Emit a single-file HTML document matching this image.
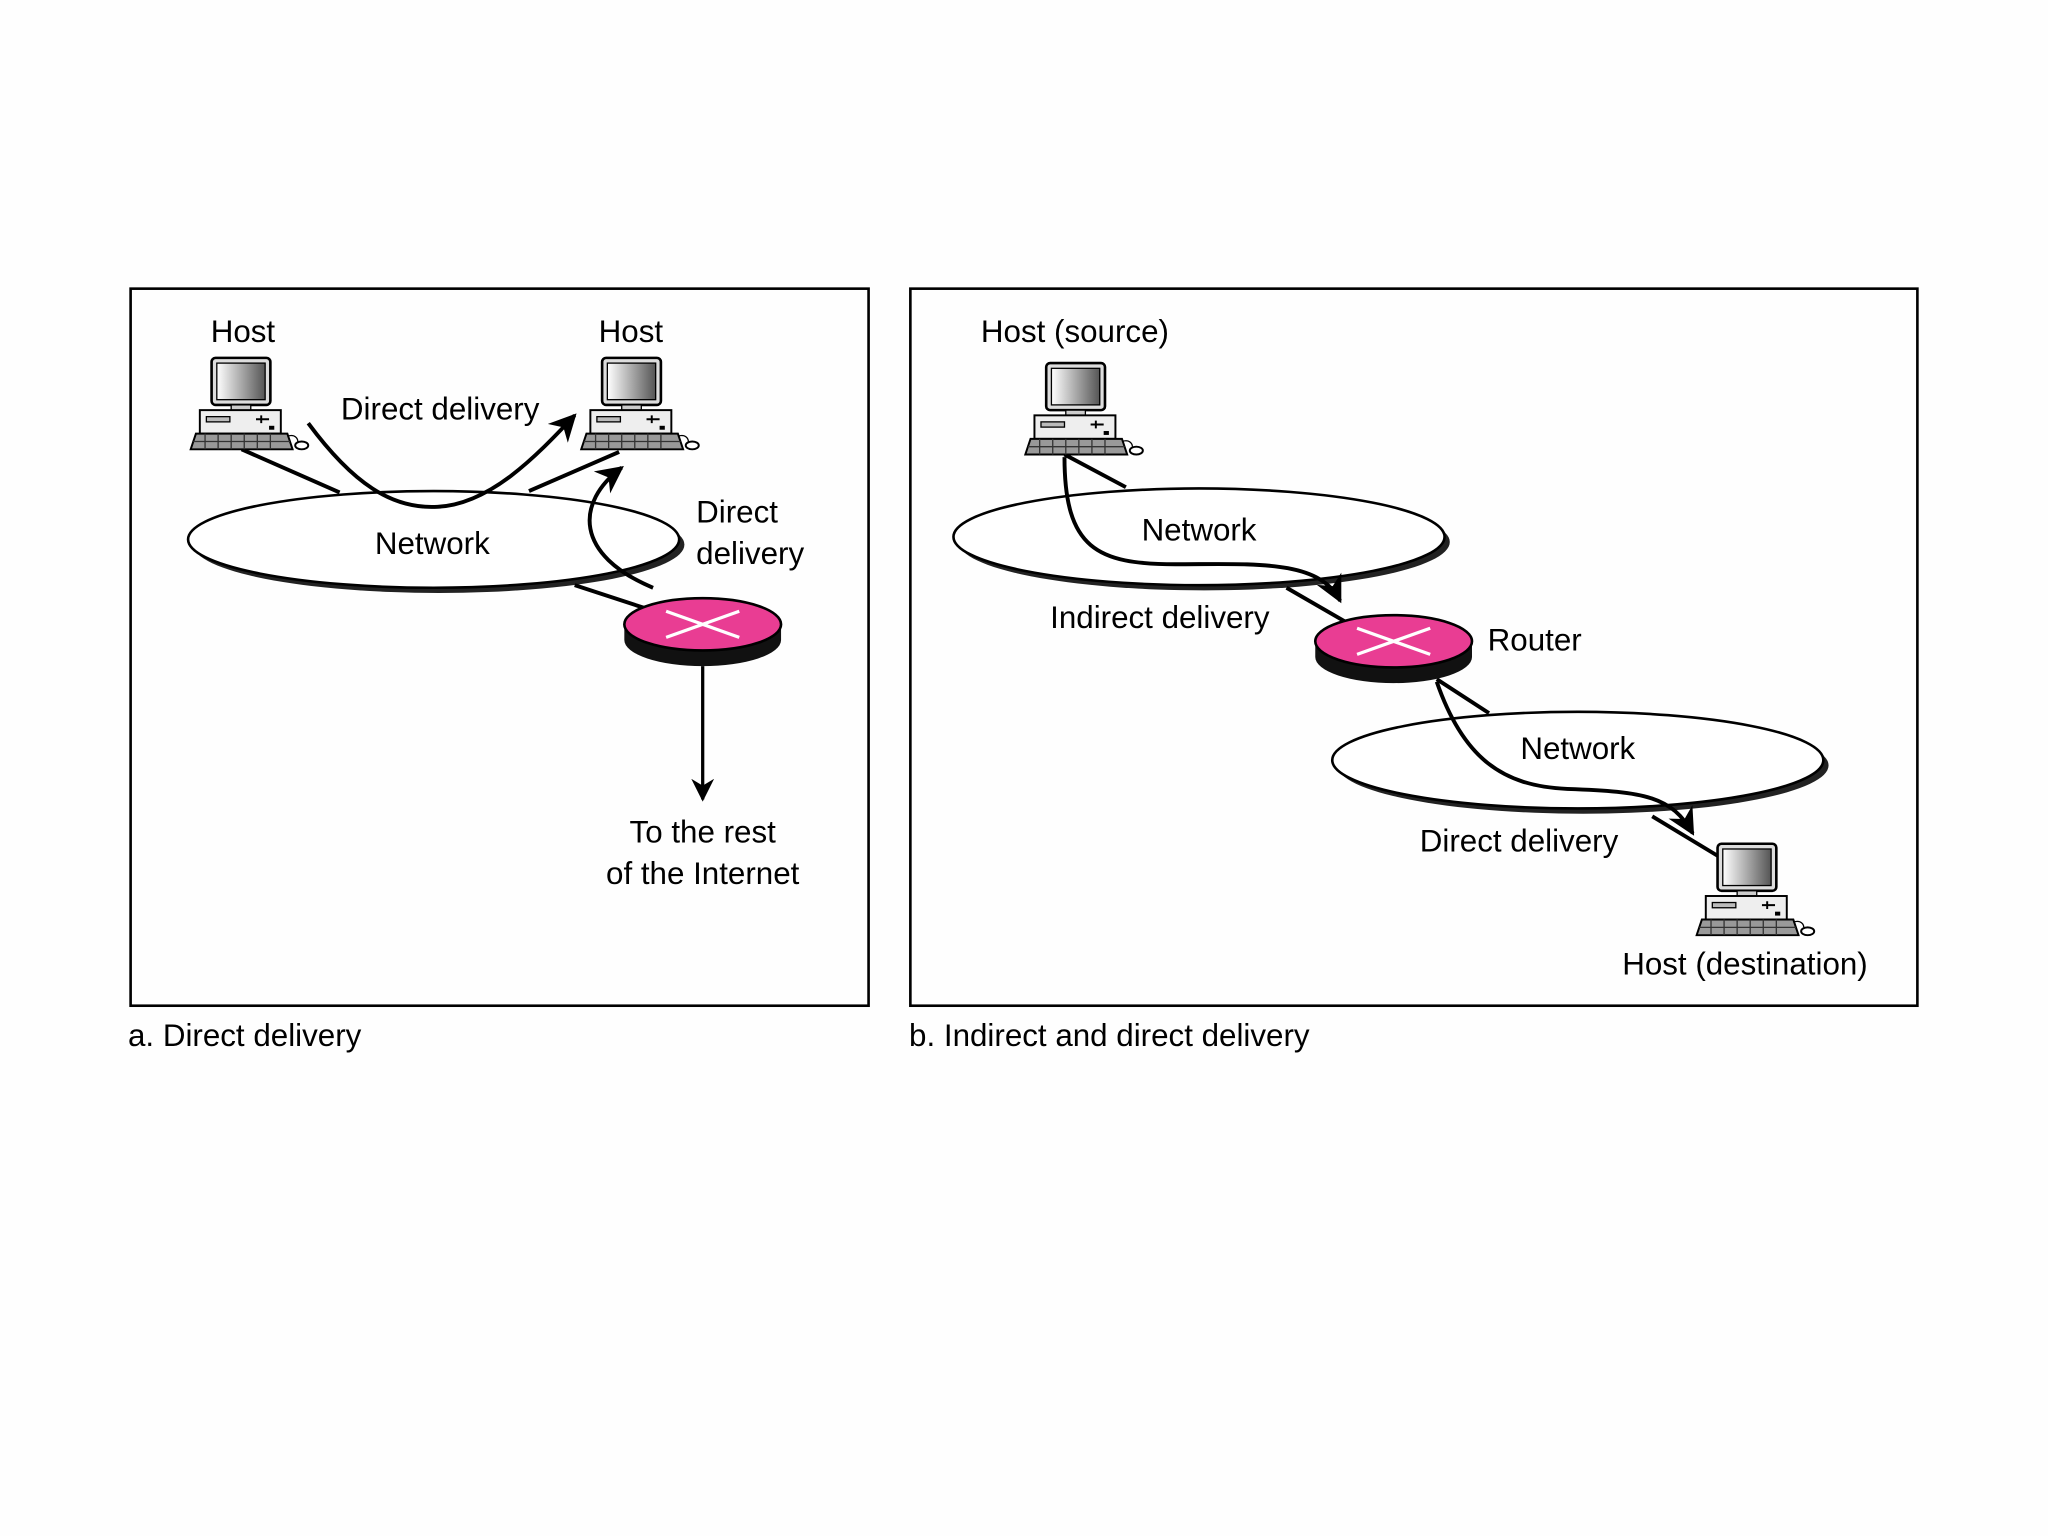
<!DOCTYPE html>
<html><head><style>html,body{margin:0;padding:0;background:#fefefe}svg{display:block}</style></head>
<body>
<svg width="2048" height="1536" viewBox="0 0 1568 1176" xmlns="http://www.w3.org/2000/svg" font-family="Liberation Sans, sans-serif" font-size="24">
<defs>
<linearGradient id="scr" x1="0" x2="1" y1="0" y2="0"><stop offset="0" stop-color="#fff"/><stop offset="1" stop-color="#555"/></linearGradient>
<marker id="ar" viewBox="0 0 10 10" refX="9" refY="5" markerWidth="7" markerHeight="7" orient="auto"><path d="M0,0 L10,5 L0,10 L3,5z" fill="#000"/></marker>
<g id="pc">
<rect x="0" y="0" width="45" height="36" rx="3" fill="#ddd" stroke="#000" stroke-width="2"/>
<rect x="4" y="4" width="37" height="28" fill="url(#scr)" stroke="#000" stroke-width="1"/>
<rect x="15" y="36" width="15" height="4" fill="#ccc" stroke="#000" stroke-width="1"/>
<rect x="-9" y="40" width="62" height="18" fill="#eee" stroke="#000" stroke-width="1.5"/>
<rect x="-4" y="45" width="18" height="4" fill="#bbb" stroke="#000" stroke-width="1"/>
<path d="M34,47 h10 M38,44 v6" stroke="#000" stroke-width="1.5"/>
<rect x="44" y="52" width="4" height="3" fill="#000"/>
<path d="M-12,58 L58,58 L62,70 L-16,70z" fill="#999" stroke="#000" stroke-width="1.5"/>
<path d="M-14,64 H60 M-5,58 v12 M5,58 v12 M15,58 v12 M25,58 v12 M35,58 v12 M45,58 v12" stroke="#333" stroke-width="1"/>
<path d="M58,60 C64,58 66,62 66,64" fill="none" stroke="#000"/>
<ellipse cx="69" cy="67" rx="5" ry="3" fill="#fff" stroke="#000" stroke-width="1.5"/>
</g>
</defs>
<rect x="100" y="221" width="565" height="549" fill="none" stroke="#000" stroke-width="2"/>
<rect x="697" y="221" width="771" height="549" fill="none" stroke="#000" stroke-width="2"/>

<!-- panel a -->
<line x1="185" y1="344" x2="260" y2="377" stroke="#000" stroke-width="3"/>
<line x1="474" y1="346" x2="405" y2="376" stroke="#000" stroke-width="3"/>
<ellipse cx="336" cy="417" rx="188" ry="37" fill="#222"/>
<ellipse cx="332" cy="413" rx="188" ry="37" fill="#fff" stroke="#000" stroke-width="2"/>
<line x1="440" y1="448" x2="495" y2="466" stroke="#000" stroke-width="3"/>
<path d="M478,478 v12 a60,20 0 0 0 120,0 v-12z" fill="#111"/>
<ellipse cx="538" cy="478" rx="60" ry="20" fill="#e93d93" stroke="#000" stroke-width="2"/>
<path d="M510,468 L566,488 M510,488 L566,468" stroke="#fff" stroke-width="2.5"/>
<line x1="538" y1="510" x2="538" y2="612" stroke="#000" stroke-width="2.5" marker-end="url(#ar)"/>
<path d="M236,324 C270,370 300,390 335,388 C375,386 410,350 440,318" fill="none" stroke="#000" stroke-width="3" marker-end="url(#ar)"/>
<path d="M500,450 C440,425 440,385 476,358" fill="none" stroke="#000" stroke-width="3" marker-end="url(#ar)"/>
<use href="#pc" x="162" y="274"/>
<use href="#pc" x="461" y="274"/>
<text x="186" y="262" text-anchor="middle">Host</text>
<text x="483" y="262" text-anchor="middle">Host</text>
<text x="337" y="321" text-anchor="middle">Direct delivery</text>
<text x="331" y="424" text-anchor="middle">Network</text>
<text x="533" y="400">Direct</text>
<text x="533" y="432">delivery</text>
<text x="538" y="645" text-anchor="middle">To the rest</text>
<text x="538" y="677" text-anchor="middle">of the Internet</text>
<text x="98" y="801">a. Direct delivery</text>

<!-- panel b -->
<line x1="815" y1="348" x2="862" y2="373" stroke="#000" stroke-width="3"/>
<ellipse cx="922" cy="415" rx="188" ry="37" fill="#222"/>
<ellipse cx="918" cy="411" rx="188" ry="37" fill="#fff" stroke="#000" stroke-width="2"/>
<line x1="985" y1="450" x2="1030" y2="476" stroke="#000" stroke-width="3"/>
<line x1="1100" y1="520" x2="1140" y2="546" stroke="#000" stroke-width="3"/>
<ellipse cx="1212" cy="586" rx="188" ry="37" fill="#222"/>
<ellipse cx="1208" cy="582" rx="188" ry="37" fill="#fff" stroke="#000" stroke-width="2"/>
<line x1="1265" y1="625" x2="1318" y2="657" stroke="#000" stroke-width="3"/>
<path d="M1007,491 v12 a60,20 0 0 0 120,0 v-12z" fill="#111"/>
<ellipse cx="1067" cy="491" rx="60" ry="20" fill="#e93d93" stroke="#000" stroke-width="2"/>
<path d="M1039,481 L1095,501 M1039,501 L1095,481" stroke="#fff" stroke-width="2.5"/>
<path d="M815,350 C815,420 840,432 900,432 C960,432 1010,428 1026,460" fill="none" stroke="#000" stroke-width="3" marker-end="url(#ar)"/>
<path d="M1100,522 C1120,580 1150,602 1200,604 C1260,606 1280,610 1296,638" fill="none" stroke="#000" stroke-width="3" marker-end="url(#ar)"/>
<use href="#pc" x="801" y="278"/>
<use href="#pc" x="1315" y="646"/>
<text x="823" y="262" text-anchor="middle">Host (source)</text>
<text x="918" y="414" text-anchor="middle">Network</text>
<text x="888" y="481" text-anchor="middle">Indirect delivery</text>
<text x="1139" y="498">Router</text>
<text x="1208" y="581" text-anchor="middle">Network</text>
<text x="1163" y="652" text-anchor="middle">Direct delivery</text>
<text x="1336" y="746" text-anchor="middle">Host (destination)</text>
<text x="696" y="801">b. Indirect and direct delivery</text>
</svg>
</body></html>
